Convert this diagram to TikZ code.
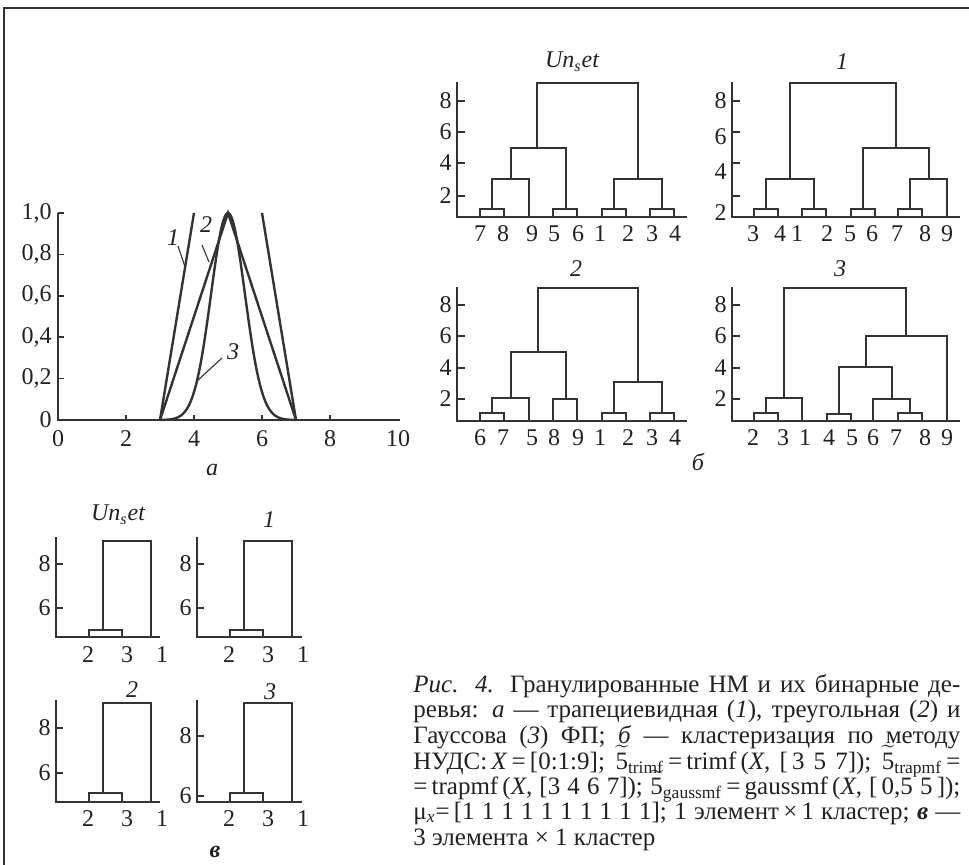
\documentclass[tikz,border=0pt]{standalone}
\usepackage{fontspec}
\setmainfont{Liberation Serif}
\usepackage{amsmath}
\usepackage{graphicx}
\definecolor{ink}{HTML}{333333}
\definecolor{txt}{HTML}{222222}
\newcommand{\tfive}[1]{$\widetilde{\mbox{5}}$\textsubscript{#1}}
\newcommand{\unset}{\textit{Un\textsubscript{s}et}}
\newsavebox\capbox
\newcommand{\fitline}[1]{\sbox\capbox{#1}\ifdim\wd\capbox>273.5pt\relax\resizebox{273.5pt}{\ht\capbox}{\usebox\capbox}\else\makebox[273.5pt][s]{#1}\fi}
\begin{document}
\begin{tikzpicture}[x=0.5pt,y=-0.5pt,
  axisline/.style={line width=0.8pt, ink},
  curve/.style={line width=1.2pt, ink},
  thinline/.style={line width=0.55pt, ink},
  dend/.style={line width=1.3pt, ink, line join=miter},
  lab/.style={font=\fontsize{12}{14}\selectfont, text=txt, inner sep=0pt},
  tlab/.style={font=\fontsize{12}{14}\selectfont\itshape, text=txt, inner sep=0pt},
  capl/.style={font=\fontsize{12.5}{15}\selectfont, text=txt, inner sep=0pt, anchor=base west}]
\useasboundingbox (0,0) rectangle (969,865);
\fill[white] (0,0) rectangle (969,865);
% frame
\draw[line width=0.8pt, ink] (4,865) -- (4,8) -- (969,8);

% ---------- plot a ----------
\draw[axisline] (58,213) -- (58,420) -- (400,420);
\foreach \v/\t/\n in {0/0/ya0, 0.2/{0,2}/ya1, 0.4/{0,4}/ya2, 0.6/{0,6}/ya3, 0.8/{0,8}/ya4, 1/{1,0}/ya5} {
  \draw[axisline] (58,420-207*\v) -- (64,420-207*\v);
  \node[lab, anchor=east] (\n) at (52,420-207*\v) {\t};
}
\foreach \u/\n in {0/xa0, 2/xa1, 4/xa2, 6/xa3, 8/xa4, 10/xa5} {
  \node[lab] (\n) at (58+34*\u,439) {\u};
}
\foreach \u in {2,4,6,8} { \draw[axisline] (58+34*\u,420) -- (58+34*\u,415); }
\begin{scope}[shift={(58,420)}, x=17pt, y=103.5pt]
  \draw[curve] (3,0) -- (4,1);
  \draw[curve] (6,1) -- (7,0);
  \draw[curve] (3,0) -- (5,1) -- (7,0);
  \draw[curve] plot[domain=3:7, samples=121, smooth] (\x,{exp(-2*(\x-5)^2)});
  \draw[curve] (0.7,0) -- (9,0);
\end{scope}
\node[tlab] (c1) at (173,238) {1};
\node[tlab] (c2) at (206,225) {2};
\node[tlab] (c3) at (233,352) {3};
\coordinate (c1a) at (178,246); \coordinate (c1b) at (185,267);
\coordinate (c2a) at (202,245); \coordinate (c2b) at (209,262);
\coordinate (c3a) at (222,358); \coordinate (c3b) at (197,381);
\draw[thinline] (c1a) -- (c1b);
\draw[thinline] (c2a) -- (c2b);
\draw[thinline] (c3a) -- (c3b);
\node[tlab] (la) at (212,470) {а};

% ---------- dendrogram panels (b) ----------
% panel Un_set
\node[tlab] (tA) at (572,62) {\unset};
\draw[dend] (457,82) -- (457,217) -- (687,217);
\foreach \y/\t/\n in {101/8/A8, 132/6/A6, 163/4/A4, 196/2/A2} {
  \draw[dend] (457,\y) -- (465,\y);
  \node[lab, anchor=east] (\n) at (452,\y) {\t};
}
\foreach \a/\b in {480/504, 553/577, 602/626, 650/674} { \draw[dend] (\a,217) -- (\a,209) -- (\b,209) -- (\b,217); }
\draw[dend] (492,209) -- (492,179) -- (529,179) -- (529,217);
\draw[dend] (511,179) -- (511,148) -- (566,148) -- (566,209);
\draw[dend] (537,148) -- (537,83) -- (638,83) -- (638,179);
\draw[dend] (614,209) -- (614,179) -- (662,179) -- (662,209);
\foreach \x/\t/\n in {480/7/Al1, 503/8/Al2, 532/9/Al3, 554/5/Al4, 578/6/Al5, 600/1/Al6, 628/2/Al7, 652/3/Al8, 675/4/Al9} {
  \node[lab] (\n) at (\x,234) {\t};
}

% panel 1
\node[tlab] (tB) at (842,62) {1};
\draw[dend] (732,82) -- (732,217) -- (960,217);
\foreach \y in {101,132,163,196} { \draw[dend] (732,\y) -- (740,\y); }
\foreach \y/\t/\n in {101/8/B8, 137/6/B6, 172/4/B4, 213/2/B2} {
  \node[lab, anchor=east] (\n) at (727,\y) {\t};
}
\foreach \a/\b in {754/778, 802/826, 851/875, 898/922} { \draw[dend] (\a,217) -- (\a,209) -- (\b,209) -- (\b,217); }
\draw[dend] (766,209) -- (766,179) -- (814,179) -- (814,209);
\draw[dend] (910,209) -- (910,179) -- (947,179) -- (947,217);
\draw[dend] (863,209) -- (863,148) -- (929,148) -- (929,179);
\draw[dend] (790,179) -- (790,83) -- (896,83) -- (896,148);
\foreach \x/\t/\n in {753/3/Bl1, 780/4/Bl2, 797/1/Bl3, 827/2/Bl4, 850/5/Bl5, 872/6/Bl6, 897/7/Bl7, 925/8/Bl8, 947/9/Bl9} {
  \node[lab] (\n) at (\x,234) {\t};
}

% panel 2
\node[tlab] (tC) at (576,269) {2};
\draw[dend] (457,287) -- (457,421) -- (687,421);
\foreach \y/\t/\n in {305/8/C8, 336/6/C6, 368/4/C4, 399/2/C2} {
  \draw[dend] (457,\y) -- (465,\y);
  \node[lab, anchor=east] (\n) at (452,\y) {\t};
}
\foreach \a/\b in {480/504, 602/626, 650/674} { \draw[dend] (\a,421) -- (\a,413) -- (\b,413) -- (\b,421); }
\draw[dend] (553,421) -- (553,399) -- (577,399) -- (577,421);
\draw[dend] (492,413) -- (492,398) -- (529,398) -- (529,421);
\draw[dend] (511,398) -- (511,352) -- (566,352) -- (566,399);
\draw[dend] (614,413) -- (614,382) -- (662,382) -- (662,413);
\draw[dend] (538,352) -- (538,288) -- (638,288) -- (638,382);
\foreach \x/\t/\n in {480/6/Cl1, 503/7/Cl2, 532/5/Cl3, 554/8/Cl4, 578/9/Cl5, 600/1/Cl6, 628/2/Cl7, 652/3/Cl8, 675/4/Cl9} {
  \node[lab] (\n) at (\x,438) {\t};
}

% panel 3
\node[tlab] (tD) at (840,269) {3};
\draw[dend] (732,287) -- (732,421) -- (960,421);
\foreach \y/\t/\n in {305/8/D8, 336/6/D6, 368/4/D4, 399/2/D2} {
  \draw[dend] (732,\y) -- (740,\y);
  \node[lab, anchor=east] (\n) at (727,\y) {\t};
}
\foreach \a/\b/\h in {754/778/413, 827/851/414, 898/922/413} { \draw[dend] (\a,421) -- (\a,\h) -- (\b,\h) -- (\b,421); }
\draw[dend] (766,413) -- (766,398) -- (802,398) -- (802,421);
\draw[dend] (873,421) -- (873,399) -- (910,399) -- (910,413);
\draw[dend] (839,414) -- (839,367) -- (892,367) -- (892,399);
\draw[dend] (866,367) -- (866,336) -- (947,336) -- (947,421);
\draw[dend] (784,398) -- (784,288) -- (906,288) -- (906,336);
\foreach \x/\t/\n in {753/2/Dl1, 783/3/Dl2, 805/1/Dl3, 829/4/Dl4, 852/5/Dl5, 873/6/Dl6, 896/7/Dl7, 925/8/Dl8, 947/9/Dl9} {
  \node[lab] (\n) at (\x,438) {\t};
}
\node[tlab] (lb) at (698,462) {б};

% ---------- small panels (c) ----------
% Un_set
\node[tlab] (tE) at (118,515) {\unset};
\draw[dend] (56,537) -- (56,637) -- (160,637);
\foreach \y/\t/\n in {564/8/E8, 608/6/E6} {
  \draw[dend] (56,\y) -- (63,\y);
  \node[lab, anchor=east] (\n) at (51,\y) {\t};
}
\draw[dend] (89,637) -- (89,630) -- (122,630) -- (122,637);
\draw[dend] (103,630) -- (103,541) -- (151,541) -- (151,637);
\foreach \x/\t/\n in {88/2/El1, 127/3/El2, 162/1/El3} { \node[lab] (\n) at (\x,655) {\t}; }

% 1
\node[tlab] (tF) at (269,520) {1};
\draw[dend] (197,537) -- (197,637) -- (302,637);
\foreach \y/\t/\n in {564/8/F8, 608/6/F6} {
  \draw[dend] (197,\y) -- (204,\y);
  \node[lab, anchor=east] (\n) at (192,\y) {\t};
}
\draw[dend] (230,637) -- (230,630) -- (263,630) -- (263,637);
\draw[dend] (244,630) -- (244,541) -- (292,541) -- (292,637);
\foreach \x/\t/\n in {229/2/Fl1, 268/3/Fl2, 303/1/Fl3} { \node[lab] (\n) at (\x,655) {\t}; }

% 2
\node[tlab] (tG) at (132,690) {2};
\draw[dend] (56,700) -- (56,802) -- (160,802);
\foreach \y/\t/\n in {728/8/G8, 773/6/G6} {
  \draw[dend] (56,\y) -- (63,\y);
  \node[lab, anchor=east] (\n) at (51,\y) {\t};
}
\draw[dend] (89,802) -- (89,793) -- (122,793) -- (122,802);
\draw[dend] (103,793) -- (103,703) -- (151,703) -- (151,802);
\foreach \x/\t/\n in {88/2/Gl1, 127/3/Gl2, 162/1/Gl3} { \node[lab] (\n) at (\x,819) {\t}; }

% 3
\node[tlab] (tH) at (270,692) {3};
\draw[dend] (197,700) -- (197,802) -- (302,802);
\foreach \y/\t/\n in {736/8/H8, 796/6/H6} {
  \draw[dend] (197,\y) -- (204,\y);
  \node[lab, anchor=east] (\n) at (192,\y) {\t};
}
\draw[dend] (230,802) -- (230,793) -- (263,793) -- (263,802);
\draw[dend] (244,793) -- (244,703) -- (292,703) -- (292,802);
\foreach \x/\t/\n in {229/2/Hl1, 268/3/Hl2, 303/1/Hl3} { \node[lab] (\n) at (\x,819) {\t}; }
\node[lab, font=\fontsize{12}{14}\selectfont\bfseries\itshape] (lc) at (215,852) {в};

% ---------- caption ----------
\node[capl] (cap1) at (413,692) {\fitline{\textit{Рис. 4.} Гранулированные НМ и их бинарные де-}};
\node[capl] (cap2) at (413,717) {\fitline{ревья: \textit{а} — трапециевидная (\textit{1}), треугольная (\textit{2}) и}};
\node[capl] (cap3) at (413,743) {\fitline{Гауссова (\textit{3}) ФП; \textit{б} — кластеризация по методу}};
\node[capl] (cap4) at (413,769) {\fitline{НУДС:\,\textit{X}\,=\,[0:1:9]; \tfive{trimf}\,=\,trimf\,(\textit{X}, [\,3 5 7]); \tfive{trapmf}\,=}};
\node[capl] (cap5) at (413,794) {\fitline{=\,trapmf\,(\textit{X}, [3 4 6 7]); \tfive{gaussmf}\,=\,gaussmf\,(\textit{X}, [\,0,5 5\,]);}};
\node[capl] (cap6) at (413,819) {\fitline{μ\textsubscript{\textit{x}}=\,[1 1 1 1 1 1 1 1 1 1]; 1 элемент\,×\,1 кластер; \textbf{\textit{в}} —}};
\node[capl] (cap7) at (413,845) {3 элемента × 1 кластер};
\end{tikzpicture}
\end{document}
